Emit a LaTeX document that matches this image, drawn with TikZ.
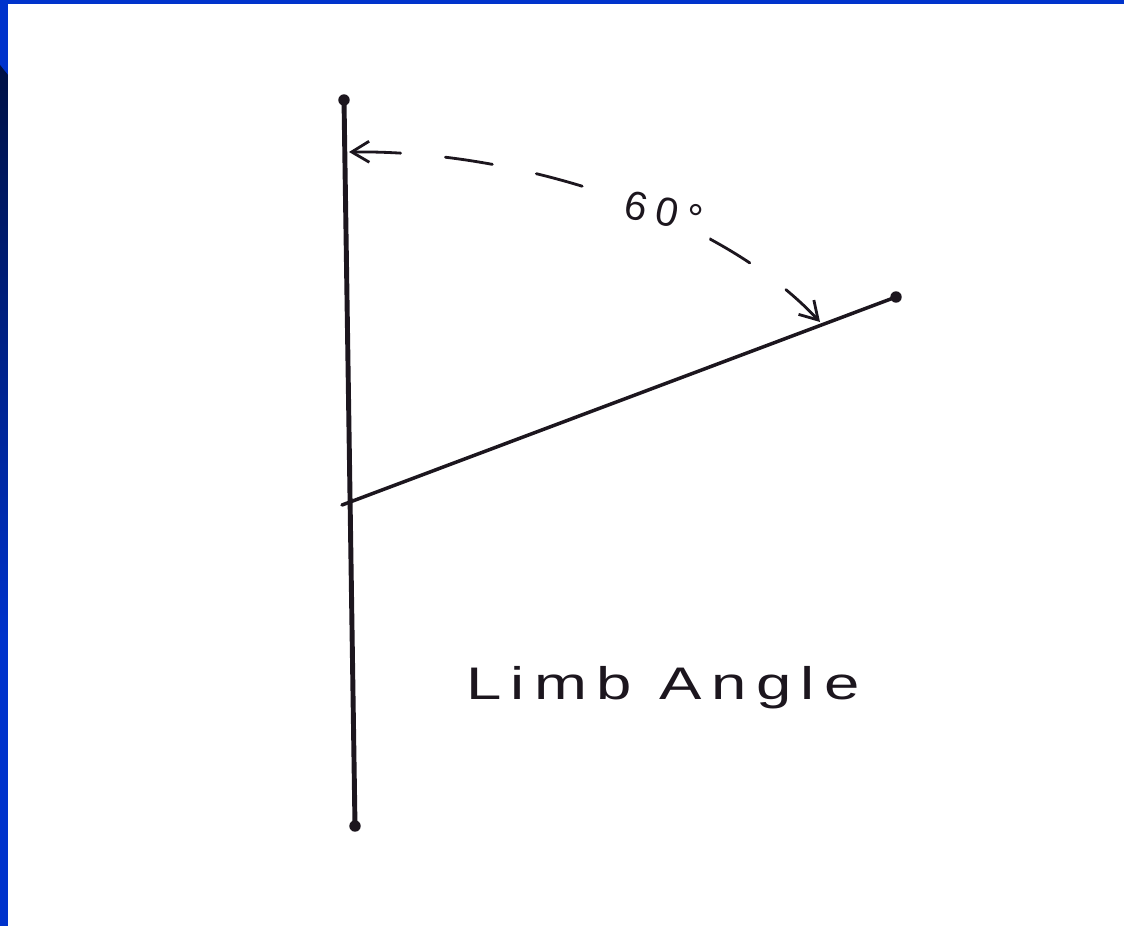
\documentclass[tikz,border=0pt]{standalone}
\usepackage{fontspec}
\setmainfont{Liberation Sans}
\usetikzlibrary{arrows.meta}
\definecolor{frameblue}{RGB}{0, 51, 204}
\definecolor{framenavy}{RGB}{0, 17, 68}
\definecolor{ink}{RGB}{28, 22, 30}

\begin{document}
\begin{tikzpicture}[x=0.02cm, y=-0.02cm, line cap=round,
    pole/.style={draw=ink, line width=2.8pt},
    limb/.style={draw=ink, line width=2pt},
    enddot/.style={circle, fill=ink, inner sep=0pt, minimum size=6.5pt},
    sweep/.style={draw=ink, line width=1.6pt, dash pattern=on 0.95cm off 0.9cm,
        {Straight Barb[length=0.35cm, width=0.42cm]}-{Straight Barb[length=0.35cm, width=0.42cm]}},
    hand/.style={text=ink, inner sep=1pt}]
        \useasboundingbox (0,0) rectangle (1124,926);
        % slide frame
        \fill[frameblue] (0,0) rectangle (1124,4);
        \fill[frameblue] (0,0) rectangle (8,926);
        \shade[top color=framenavy, bottom color=frameblue] (0,65) -- (8,75) -- (8,640) -- (0,640) -- cycle;
        % body and limb
        \node[enddot] (top) at (344,100) {};
        \node[enddot] (bot) at (355,826) {};
        \node[enddot] (limbend) at (896,297) {};
        \coordinate (limbroot) at (342,505);
        \draw[pole] (top.center) -- (bot.center);
        \draw[limb] (limbroot) -- (limbend.center);
        % angle sweep
        \coordinate (arcstart) at (349,152);
        \coordinate (arcend) at (820,322);
        \draw[sweep] (arcstart) .. controls (520,150) and (720,215) .. (arcend);
        \node[hand, fill=white, inner xsep=6pt, inner ysep=3pt, rotate=-12, font=\fontsize{23}{27}\selectfont\addfontfeature{LetterSpace=22}] (deg) at (664,212) {60°};
        \node[hand, xscale=1.39, font=\fontsize{26}{30}\selectfont\addfontfeature{LetterSpace=15}] (caption) at (663,688) {Limb Angle};
    \end{tikzpicture}
\end{document}
